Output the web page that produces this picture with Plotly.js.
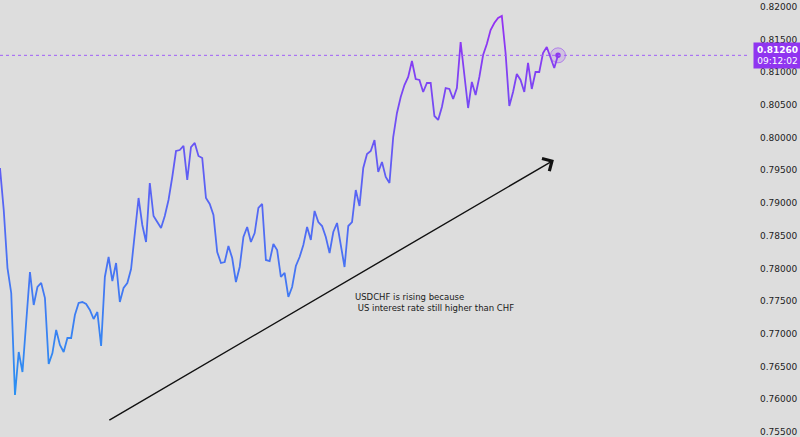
<!DOCTYPE html>
<html>
<head>
<meta charset="utf-8">
<script src="https://cdn.plot.ly/plotly-3.0.1.min.js"></script>
<style>
  html, body { margin: 0; padding: 0; background: #dddddd; }
  #chart { width: 800px; height: 437px; }
</style>
</head>
<body>
<div id="chart"></div>
<script>
// USDCHF closing prices, oldest to newest
const closePrices = [
  0.79536, 0.78893, 0.78005, 0.77623, 0.76062, 0.76720, 0.76414, 0.77210, 0.77944, 0.77439,
  0.77715, 0.77776, 0.77546, 0.76536, 0.76704, 0.77057, 0.76827, 0.76720, 0.76934, 0.76934,
  0.77286, 0.77470, 0.77485, 0.77454, 0.77363, 0.77225, 0.77332, 0.76812, 0.77868, 0.78174,
  0.77806, 0.78082, 0.77485, 0.77699, 0.77776, 0.77990, 0.78587, 0.79077, 0.78664, 0.78403,
  0.79306, 0.78801, 0.78709, 0.78618, 0.78801, 0.79046, 0.79398, 0.79796, 0.79811, 0.79873,
  0.79352, 0.79857, 0.79919, 0.79720, 0.79689, 0.79077, 0.78985, 0.78817, 0.78250, 0.78082,
  0.78097, 0.78342, 0.78158, 0.77791, 0.78021, 0.78480, 0.78633, 0.78403, 0.78541, 0.78924,
  0.78985, 0.78128, 0.78112, 0.78373, 0.78281, 0.77868, 0.77929, 0.77562, 0.77715, 0.78036,
  0.78174, 0.78357, 0.78633, 0.78434, 0.78878, 0.78709, 0.78648, 0.78480, 0.78235, 0.78556,
  0.78694, 0.78327, 0.78021, 0.78648, 0.78709, 0.79199, 0.78954, 0.79536, 0.79750, 0.79796,
  0.79964, 0.79475, 0.79628, 0.79398, 0.79306, 0.80010, 0.80378, 0.80623, 0.80806, 0.80929,
  0.81174, 0.80898, 0.80883, 0.80699, 0.80837, 0.80837, 0.80332, 0.80271, 0.80470, 0.80760,
  0.80745, 0.80592, 0.80760, 0.81464, 0.80990, 0.80454, 0.80852, 0.80653, 0.80929, 0.81265,
  0.81434, 0.81648, 0.81755, 0.81832, 0.81862, 0.81296, 0.80485, 0.80699, 0.80975, 0.80883,
  0.80699, 0.81143, 0.80745, 0.81005, 0.81005, 0.81296, 0.81388, 0.81235, 0.81066, 0.81260
];
const barIndex = closePrices.map((_, i) => i);

// Price scale tick values
const priceTicks = [0.755, 0.760, 0.765, 0.770, 0.775, 0.780, 0.785, 0.790, 0.795,
                    0.800, 0.805, 0.810, 0.815, 0.820];

// Current price label
const lastPriceText = "0.81260";
const countdownText = "09:12:02";

// Trend arrow drawing: [barIndex, price] for tail and head
const arrowTail = [28.8, 0.75664];
const arrowHead = [147.9, 0.79658];

// Note drawing
const noteAnchor = [94.2, 0.77672];
const noteLines = ["USDCHF is rising because", "\u00a0US interest rate still higher than CHF"];

const lastIdx = barIndex[barIndex.length - 1];
const lastPrice = closePrices[closePrices.length - 1];

const traces = [
  {
    x: barIndex, y: closePrices, type: 'scatter', mode: 'lines',
    line: { color: '#5b63f3', width: 1.8 },
    hoverinfo: 'skip'
  },
  {
    x: [lastIdx], y: [lastPrice], type: 'scatter', mode: 'markers',
    marker: { size: 15, color: 'rgba(150,70,240,0.18)', line: { color: 'rgba(150,70,240,0.55)', width: 1 } },
    hoverinfo: 'skip'
  },
  {
    x: [lastIdx], y: [lastPrice], type: 'scatter', mode: 'markers',
    marker: { size: 5.5, color: '#8e38ef' },
    hoverinfo: 'skip'
  }
];

const layout = {
  width: 800, height: 437,
  margin: { l: 0, r: 50, t: 0, b: 0, pad: 0 },
  paper_bgcolor: '#dddddd',
  plot_bgcolor: '#dddddd',
  showlegend: false,
  xaxis: {
    range: [0, 200.27], visible: false, showgrid: false, zeroline: false, fixedrange: true
  },
  yaxis: {
    range: [0.75419, 0.82107], side: 'right',
    tickvals: priceTicks, tickformat: '.5f',
    showgrid: false, zeroline: false, showline: false, ticks: '',
    ticklabelstandoff: 9,
    tickfont: { family: 'DejaVu Sans, sans-serif', size: 9, color: '#222222' },
    fixedrange: true
  },
  shapes: [
    {
      type: 'line', xref: 'paper', yref: 'y', x0: 0, x1: 1, y0: lastPrice, y1: lastPrice,
      line: { color: '#a060f8', width: 1, dash: 'dot' }
    }
  ],
  annotations: [
    {
      x: arrowHead[0], y: arrowHead[1], ax: arrowTail[0], ay: arrowTail[1],
      xref: 'x', yref: 'y', axref: 'x', ayref: 'y',
      showarrow: true, arrowhead: 4, arrowsize: 2, arrowwidth: 1.4, arrowcolor: '#111111',
      text: ''
    },
    {
      x: noteAnchor[0], y: noteAnchor[1], xref: 'x', yref: 'y',
      xanchor: 'left', yanchor: 'top', align: 'left', showarrow: false,
      text: noteLines.join('<br>'),
      font: { family: 'DejaVu Sans, sans-serif', size: 8.5, color: '#1a1a1a' }
    },
    {
      x: 1, y: lastPrice, xref: 'paper', yref: 'y', xanchor: 'left', yanchor: 'middle',
      xshift: 3, showarrow: false, align: 'center',
      text: '<b>' + lastPriceText + '</b><br>' + countdownText,
      font: { family: 'DejaVu Sans, sans-serif', size: 9, color: '#ffffff' },
      bgcolor: '#9035f0', borderpad: 1, width: 45, height: 23
    }
  ]
};

Plotly.newPlot('chart', traces, layout, { staticPlot: true, displayModeBar: false }).then(function (gd) {
  const svg = gd.querySelector('svg.main-svg');
  const ns = 'http://www.w3.org/2000/svg';
  let defs = svg.querySelector('defs');
  if (!defs) { defs = document.createElementNS(ns, 'defs'); svg.insertBefore(defs, svg.firstChild); }
  const grad = document.createElementNS(ns, 'linearGradient');
  grad.setAttribute('id', 'priceGradient');
  grad.setAttribute('x1', '0'); grad.setAttribute('y1', '1');
  grad.setAttribute('x2', '0'); grad.setAttribute('y2', '0');
  [['0', '#2a90f2'], ['0.55', '#5a62f4'], ['1', '#9530f3']].forEach(function (s) {
    const stop = document.createElementNS(ns, 'stop');
    stop.setAttribute('offset', s[0]);
    stop.setAttribute('stop-color', s[1]);
    grad.appendChild(stop);
  });
  defs.appendChild(grad);
  const path = gd.querySelector('.scatterlayer .trace path.js-line');
  if (path) path.style.stroke = 'url(#priceGradient)';
});
</script>
</body>
</html>
